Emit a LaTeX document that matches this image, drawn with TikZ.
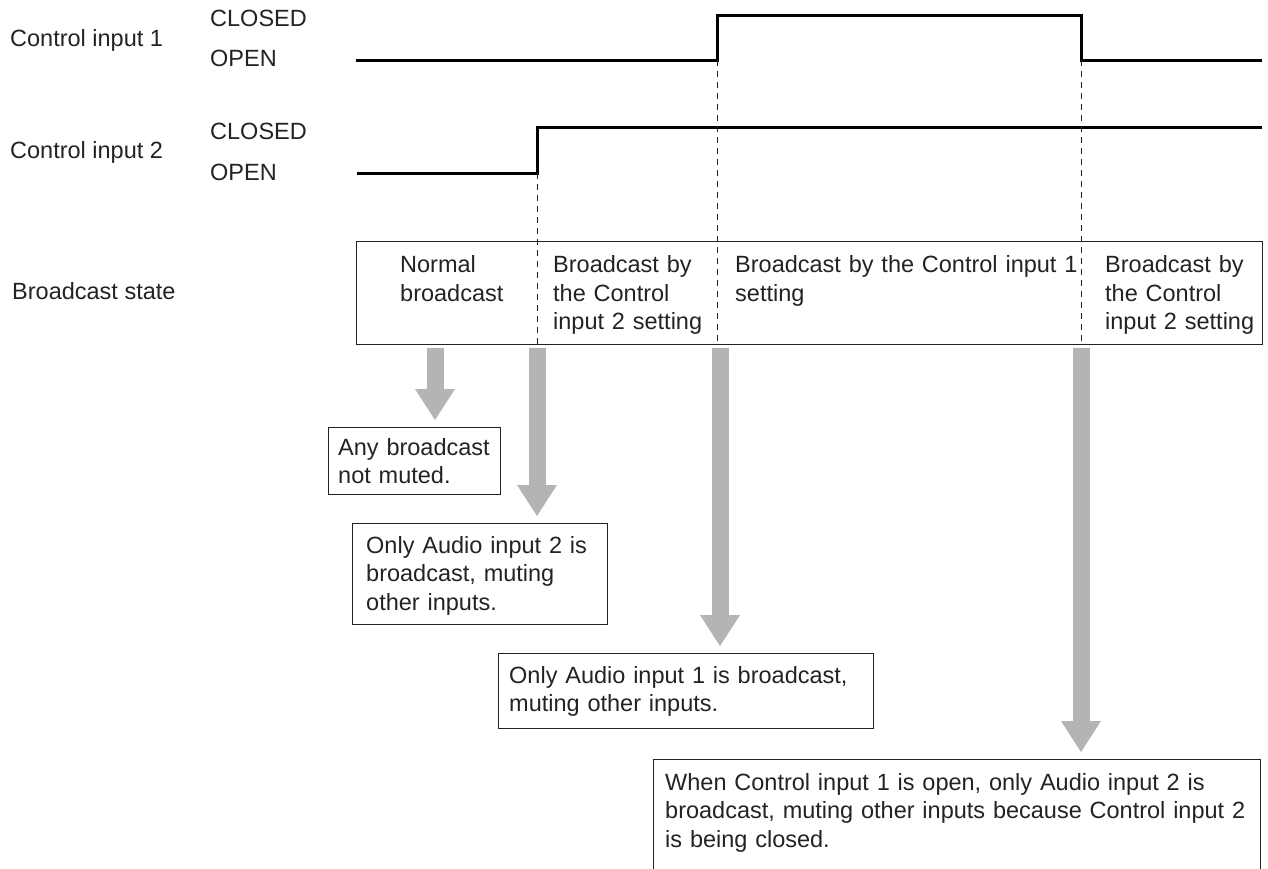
\documentclass[tikz,border=0pt]{standalone}
\usepackage{fontspec}
\setmainfont{Liberation Sans}
\usetikzlibrary{arrows.meta}
\definecolor{ag}{RGB}{180,180,180}
\definecolor{ink}{RGB}{35,35,35}
\begin{document}
\begin{tikzpicture}[x=1pt,y=-1pt,
  every node/.style={font=\fontsize{23.5}{28.5}\selectfont, text=ink},
  lbl/.style={anchor=base west, inner sep=0pt},
  mtxt/.style={anchor=base west, inner sep=0pt, text width=#1, align=left},
  mtxt/.default=360pt,
  dbox/.style={draw=ink, line width=1.2pt, anchor=north west, inner sep=0pt},
  sig/.style={draw=black, line width=3pt, line join=miter},
  guide/.style={draw=ink, line width=0.9pt, dash pattern=on 6pt off 5pt},
  garrow/.style={draw=ag, line width=17pt, -{Triangle[width=40pt,length=31pt,line width=0pt]}, shorten <=4pt, shorten >=7pt}]
\useasboundingbox (0,0) rectangle (1268,868);
\clip (0,0) rectangle (1268,868);

% left labels
\node[lbl] (c1) at (10,46.7) {Control input 1};
\node[lbl] (c1c) at (210,26.7) {CLOSED};
\node[lbl] (c1o) at (210,66.7) {OPEN};
\node[lbl] (c2) at (10,158.3) {Control input 2};
\node[lbl] (c2c) at (210,139) {CLOSED};
\node[lbl] (c2o) at (210,180) {OPEN};
\node[lbl] (bs) at (12,299) {Broadcast state};

% signals
\coordinate (s1a) at (356,60);
\coordinate (s1r) at (717,60);
\coordinate (s1f) at (1081,60);
\coordinate (s1e) at (1262,60);
\coordinate (s2a) at (357,173);
\coordinate (s2r) at (537,173);
\coordinate (s2e) at (1262,127);
\draw[sig] (s1a) -- (s1r) -- (717,15) -- (1081,15) -- (s1f) -- (s1e);
\draw[sig] (s2a) -- (s2r) -- (537,127) -- (s2e);

% broadcast state box
\node[dbox, minimum width=906pt, minimum height=103pt] (state) at (356,241) {};
\draw[guide] (s2r) -- (s2r |- state.south);
\draw[guide] (s1r) -- (s1r |- state.south);
\draw[guide] (s1f) -- (s1f |- state.south);

\node[mtxt=200pt] (col1) at (400,272.5) {Normal\\broadcast};
\node[mtxt=200pt] (col2) at (553,272.5) {Broadcast by\\the Control\\input 2 setting};
\node[mtxt] (col3) at (735,272.5) {Broadcast by the Control input 1\\setting};
\node[mtxt=200pt] (col4) at (1105,272.5) {Broadcast by\\the Control\\input 2 setting};

% description boxes
\node[dbox, minimum width=172pt, minimum height=67pt] (d1) at (328,427) {};
\node[mtxt] (t1) at (338,455) {Any broadcast\\not muted.};
\node[dbox, minimum width=255pt, minimum height=101pt] (d2) at (352,523) {};
\node[mtxt] (t2) at (366,553) {Only Audio input 2 is\\broadcast, muting\\other inputs.};
\node[dbox, minimum width=375pt, minimum height=75pt] (d3) at (498,653) {};
\node[mtxt] (t3) at (509,683) {Only Audio input 1 is broadcast,\\muting other inputs.};
\node[dbox, minimum width=607pt, minimum height=140pt] (d4) at (653,759) {};
\node[mtxt=600pt] (t4) at (665,790) {When Control input 1 is open, only Audio input 2 is\\broadcast, muting other inputs because Control input 2\\is being closed.};

% gray arrows
\coordinate (a1) at (435,344);
\coordinate (a2) at (537,344);
\coordinate (a3) at (720,344);
\coordinate (a4) at (1081,344);
\draw[garrow] (a1) -- (a1 |- d1.north);
\draw[garrow] (a2) -- (a2 |- d2.north);
\draw[garrow] (a3) -- (a3 |- d3.north);
\draw[garrow] (a4) -- (a4 |- d4.north);
\end{tikzpicture}
\end{document}
